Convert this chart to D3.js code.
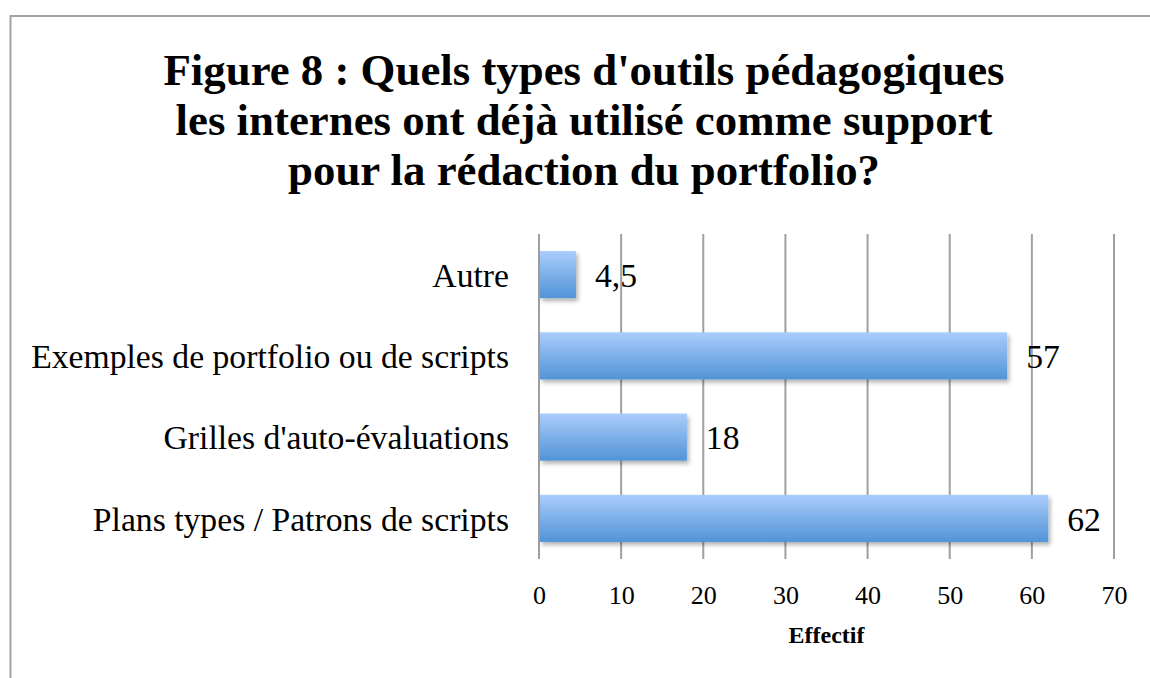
<!DOCTYPE html>
<html>
<head>
<meta charset="utf-8">
<script src="https://cdn.jsdelivr.net/npm/d3@7"></script>
<style>
  html, body { margin: 0; padding: 0; background: #fff; }
  svg { display: block; }
</style>
</head>
<body>
<script>
// data
const categories = ["Autre", "Exemples de portfolio ou de scripts", "Grilles d'auto-évaluations", "Plans types / Patrons de scripts"];
const values = [4.5, 57, 18, 62];
const valueLabels = ["4,5", "57", "18", "62"];
const tickValues = [0, 10, 20, 30, 40, 50, 60, 70];
const titleLines = ["Figure 8 : Quels types d'outils pédagogiques", "les internes ont déjà utilisé comme support", "pour la rédaction du portfolio?"];
const axisTitle = "Effectif";

const width = 1150, height = 678;
const serif = "'Liberation Serif', 'DejaVu Serif', serif";

const svg = d3.select("body").append("svg")
  .attr("width", width)
  .attr("height", height);

// scale text so it spans the wanted width
function fitWidth(sel, target) {
  const base = 30;
  sel.attr("font-size", base);
  const w = sel.node().getComputedTextLength();
  const size = base * target / w;
  sel.attr("font-size", size);
  return size;
}

const defs = svg.append("defs");
const grad = defs.append("linearGradient")
  .attr("id", "barGrad")
  .attr("x1", 0).attr("y1", 0).attr("x2", 0).attr("y2", 1);
grad.append("stop").attr("offset", "0%").attr("stop-color", "#aacdfb");
grad.append("stop").attr("offset", "100%").attr("stop-color", "#5193d7");

const shadow = defs.append("filter").attr("id", "shadow")
  .attr("x", "-10%").attr("y", "-20%").attr("width", "130%").attr("height", "160%");
shadow.append("feDropShadow")
  .attr("dx", 2).attr("dy", 3).attr("stdDeviation", 2)
  .attr("flood-color", "#000").attr("flood-opacity", 0.3);

// outer frame (left and top edges visible)
svg.append("path")
  .attr("d", "M10.5,678 V16 H1150")
  .attr("fill", "none")
  .attr("stroke", "#a3a3a3")
  .attr("stroke-width", 2);

// title
const title = svg.append("text")
  .attr("text-anchor", "middle")
  .attr("font-family", serif)
  .attr("font-weight", "bold")
  .attr("fill", "#000");
title.selectAll("tspan")
  .data(titleLines)
  .join("tspan")
  .attr("x", 584)
  .attr("y", (d, i) => 85 + i * 50)
  .text(d => d);
// size the title on its last line
const probe = svg.append("text")
  .attr("font-family", serif)
  .attr("font-weight", "bold")
  .text(titleLines[2]);
const titleSize = fitWidth(probe, 592);
probe.remove();
title.attr("font-size", titleSize);

const x = d3.scaleLinear().domain([0, 70]).range([539, 1114]);
const y = d3.scaleBand().domain(categories).range([234, 559])
  .paddingInner(0.42).paddingOuter(0.21);

// gridlines
svg.append("g")
  .selectAll("line")
  .data(tickValues)
  .join("line")
  .attr("x1", d => x(d)).attr("x2", d => x(d))
  .attr("y1", 234).attr("y2", 559)
  .attr("stroke", "#a0a0a0")
  .attr("stroke-width", 2);

// bars
svg.append("g")
  .selectAll("rect")
  .data(categories)
  .join("rect")
  .attr("x", x(0) + 1)
  .attr("y", d => y(d))
  .attr("width", (d, i) => x(values[i]) - x(0) - 1)
  .attr("height", y.bandwidth())
  .attr("fill", "url(#barGrad)")
  .attr("filter", "url(#shadow)");

// category labels
const probe2 = svg.append("text").attr("font-family", serif).text(categories[1]);
const labelSize = fitWidth(probe2, 478);
probe2.remove();

svg.append("g")
  .selectAll("text")
  .data(categories)
  .join("text")
  .attr("x", 509)
  .attr("y", d => y(d) + y.bandwidth() / 2)
  .attr("dy", "0.36em")
  .attr("text-anchor", "end")
  .attr("font-family", serif)
  .attr("font-size", labelSize)
  .attr("fill", "#000")
  .text(d => d);

// value labels
svg.append("g")
  .selectAll("text")
  .data(categories)
  .join("text")
  .attr("x", (d, i) => x(values[i]) + 19)
  .attr("y", d => y(d) + y.bandwidth() / 2)
  .attr("dy", "0.36em")
  .attr("font-family", serif)
  .attr("font-size", labelSize)
  .attr("fill", "#000")
  .text((d, i) => valueLabels[i]);

// x axis tick labels
const axis = svg.append("g")
  .attr("transform", "translate(0,604)")
  .call(d3.axisBottom(x).tickValues(tickValues).tickSize(0).tickPadding(0).tickFormat(d3.format("d")));
axis.select(".domain").remove();
axis.selectAll("text")
  .attr("y", 0)
  .attr("dy", 0)
  .attr("font-family", serif)
  .attr("font-size", 26)
  .attr("fill", "#000");

// axis title
svg.append("text")
  .attr("x", x(35))
  .attr("y", 643)
  .attr("text-anchor", "middle")
  .attr("font-family", serif)
  .attr("font-weight", "bold")
  .attr("font-size", 24)
  .attr("fill", "#000")
  .text(axisTitle);
</script>
</body>
</html>
